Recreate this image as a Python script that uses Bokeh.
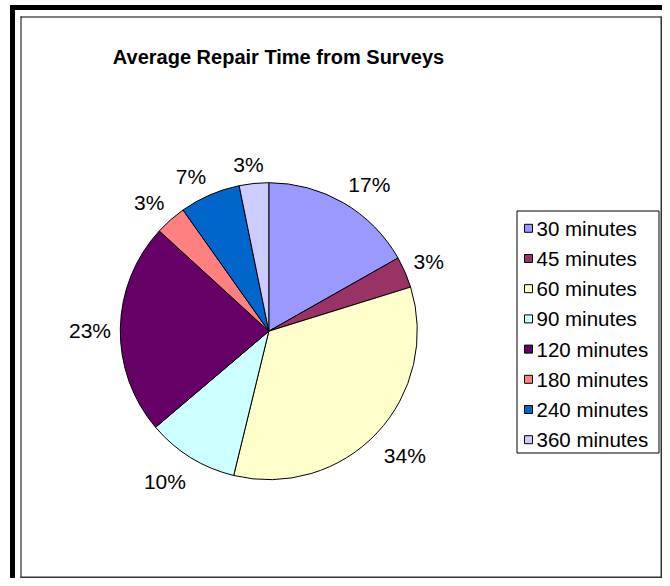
import math
from bokeh.plotting import figure
from bokeh.models import Range1d, ColumnDataSource
from bokeh.core.properties import value
from bokeh.embed import file_html
from bokeh.resources import INLINE

# ---------------- data ----------------
title_text = "Average Repair Time from Surveys"
categories = ["30 minutes", "45 minutes", "60 minutes", "90 minutes",
              "120 minutes", "180 minutes", "240 minutes", "360 minutes"]
shares = [16.8, 3.4, 33.6, 10.0, 23.0, 3.4, 6.6, 3.2]
colors = ["#9999FF", "#993366", "#FFFFCC", "#CCFFFF",
          "#660066", "#FF8080", "#0066CC", "#CCCCFF"]

# ---------------- layout (pixel space, 1 data unit = 1 px) ----------------
W, H = 662, 578


def fx(rx):
    return rx


def fy(ry):
    return H - ry


FONT = value("Liberation Sans")

p = figure(width=W, height=H, output_backend="svg", toolbar_location=None,
           x_range=Range1d(0, W), y_range=Range1d(0, H),
           x_axis_type=None, y_axis_type=None, min_border=0,
           background_fill_color="white", border_fill_color="white")
p.outline_line_color = None

# thick outer border (left and top)
p.quad(left=[fx(10)], right=[fx(14)], bottom=[0], top=[fy(5)], color="black")
p.quad(left=[fx(10)], right=[W], bottom=[fy(9)], top=[fy(5)], color="black")

# inner chart frame
p.segment(x0=[fx(20.5)], y0=[fy(16)], x1=[fx(20.5)], y1=[0], line_color="black", line_width=1)
p.segment(x0=[fx(20)], y0=[fy(16.5)], x1=[W - 1], y1=[fy(16.5)], line_color="black", line_width=1)
p.segment(x0=[W - 1], y0=[fy(16)], x1=[W - 1], y1=[0], line_color="#333333", line_width=2)
p.segment(x0=[fx(20)], y0=[1], x1=[W], y1=[1], line_color="#333333", line_width=2)

# title
p.text(x=[fx(278)], y=[fy(56)], text=[title_text], text_font=FONT,
       text_font_size="20px", text_font_style="bold", text_color="black",
       text_align="center", text_baseline="alphabetic")

# pie
cx, cy, r = fx(268.3), fy(330.7), 148.5
total = sum(shares)
starts, ends, mids = [], [], []
c = 0.0
for v in shares:
    c0 = c / total
    c += v
    c1 = c / total
    starts.append(math.pi / 2 - 2 * math.pi * c0)
    ends.append(math.pi / 2 - 2 * math.pi * c1)
    mids.append(2 * math.pi * (c0 + c1) / 2)

src = ColumnDataSource(dict(start=starts, end=ends, color=colors, cat=categories))
p.wedge(x=cx, y=cy, radius=r, start_angle="start", end_angle="end",
        direction="clock", fill_color="color", line_color="black",
        line_width=1, source=src)

# percentage labels outside slices
LFS = 21
lx, ly, lt = [], [], []


def clip(a):
    return max(-1.0, min(1.0, a))


for v, th in zip(shares, mids):
    txt = f"{round(v / total * 100)}%"
    ndig = len(txt) - 1
    w = LFS * (0.556 * ndig + 0.889)
    ux, uy = math.sin(th), math.cos(th)
    g = 9.3
    dx = (r + g) * ux + w / 2 * clip(3 * ux)
    dy = (r + g) * uy + 13 * clip(2 * uy) - 3
    lx.append(cx + dx)
    ly.append(cy + dy)
    lt.append(txt)

p.text(x=lx, y=ly, text=lt, text_font=FONT, text_font_size=f"{LFS}px",
       text_color="black", text_align="center", text_baseline="middle")

# legend (drawn manually)
p.quad(left=[fx(516.5)], right=[fx(658.5)], top=[fy(210.5)], bottom=[fy(452.5)],
       fill_color="white", line_color="black", line_width=1)
row_y = [fy(227.8 + 30.2 * i) for i in range(len(categories))]
p.rect(x=[fx(528)] * len(categories), y=row_y, width=8, height=8,
       fill_color=colors, line_color="black", line_width=1)
p.text(x=[fx(536)] * len(categories), y=row_y, text=categories, text_font=FONT,
       text_font_size="20.5px", text_color="black", text_align="left",
       text_baseline="middle")

open("out.html", "w").write(file_html(p, INLINE))
